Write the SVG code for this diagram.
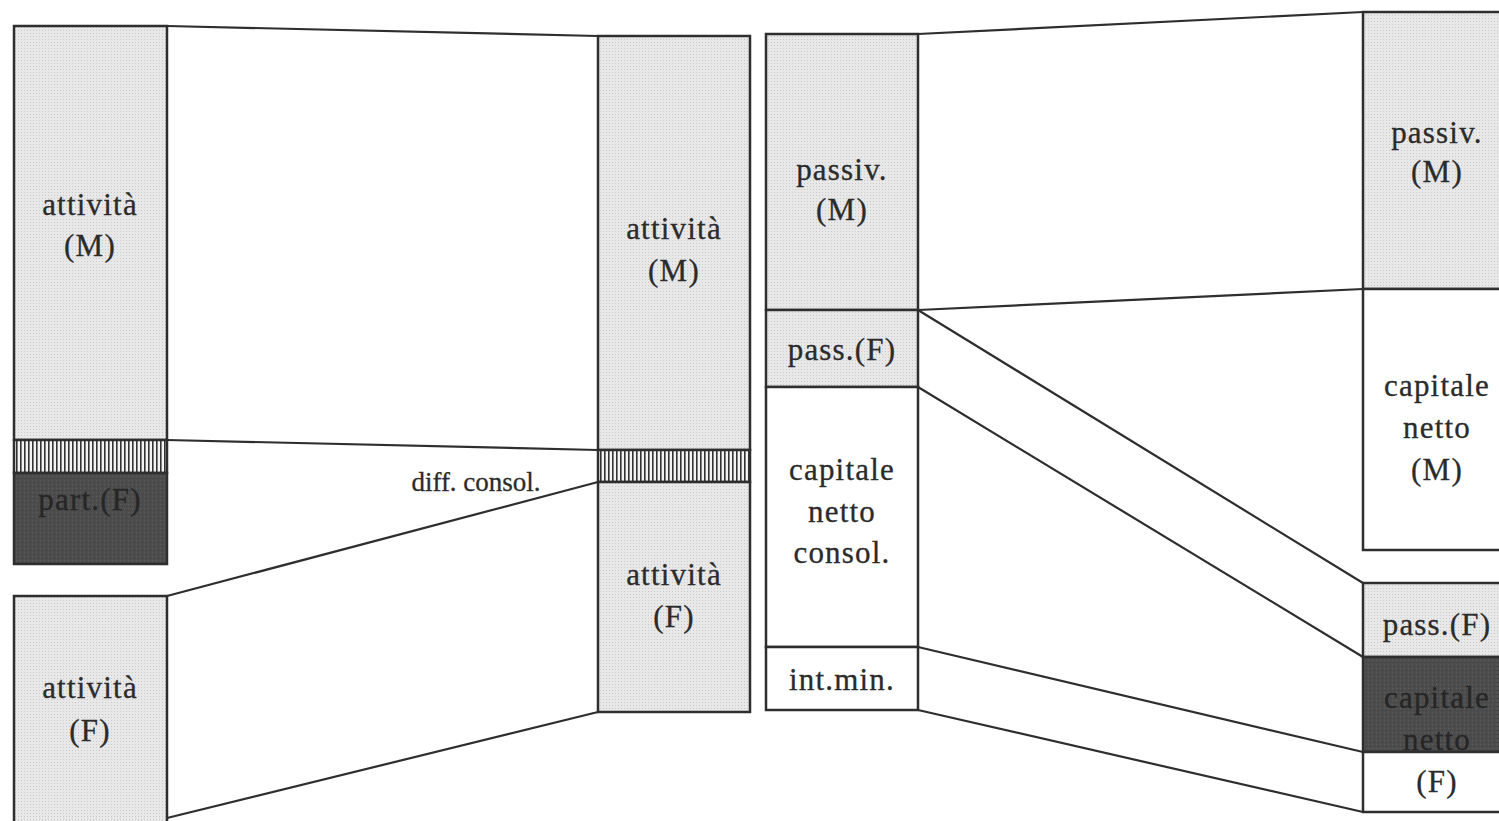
<svg xmlns="http://www.w3.org/2000/svg" width="1499" height="821" viewBox="0 0 1499 821">
<style>
.box{stroke:#2e2e2e;stroke-width:2.5}
.lt{fill:url(#dots)}
.wh{fill:#ffffff}
.dk{fill:url(#dark)}
.ht{fill:url(#hatch)}
.conn line{stroke:#2e2e2e;stroke-width:2.2}
text{font-family:"Liberation Serif","Times New Roman",serif;font-size:31px;letter-spacing:1.2px;fill:#2b2b2b;stroke:#2b2b2b;stroke-width:0.3;text-anchor:middle}
.dt{fill:#262626;stroke:#262626}
.sm{font-size:27px;letter-spacing:0px}
</style>
<defs>
<pattern id="dots" width="3" height="3" patternUnits="userSpaceOnUse">
<rect width="3" height="3" fill="#e8e8e8"/>
<rect width="1" height="1" fill="#c9c9c9"/>
</pattern>
<pattern id="dark" width="4" height="4" patternUnits="userSpaceOnUse">
<rect width="4" height="4" fill="#4d4d4d"/>
<rect width="1" height="1" fill="#5e5e5e"/>
<rect x="2" y="2" width="1" height="1" fill="#3e3e3e"/>
</pattern>
<pattern id="hatch" width="4" height="4" patternUnits="userSpaceOnUse">
<rect width="4" height="4" fill="#f4f4f4"/>
<rect width="1.6" height="4" fill="#333"/>
</pattern>
</defs>
<rect width="1499" height="821" fill="#ffffff"/>

<g id="connectors" class="conn">
<line x1="167" y1="26" x2="598" y2="36"/>
<line x1="167" y1="440" x2="598" y2="450"/>
<line x1="167" y1="596" x2="598" y2="482"/>
<line x1="167" y1="818" x2="598" y2="712"/>
<line x1="918" y1="34" x2="1363" y2="12"/>
<line x1="918" y1="310" x2="1363" y2="289"/>
<line x1="918" y1="310" x2="1363" y2="583"/>
<line x1="918" y1="387" x2="1363" y2="657"/>
<line x1="918" y1="647" x2="1363" y2="752"/>
<line x1="918" y1="710" x2="1363" y2="812"/>
</g>

<g id="left-M">
<rect class="box lt" x="14" y="26" width="153" height="414"/>
<text x="90" y="215">attività</text>
<text x="90" y="256">(M)</text>
</g>
<g id="left-diff">
<rect class="box ht" x="14" y="440" width="153" height="33"/>
</g>
<g id="left-part">
<rect class="box dk" x="14" y="473" width="153" height="91"/>
<text class="dt" x="90" y="510">part.(F)</text>
</g>
<g id="left-F">
<rect class="box lt" x="14" y="596" width="153" height="240"/>
<text x="90" y="698">attività</text>
<text x="90" y="741">(F)</text>
</g>

<g id="mid-M">
<rect class="box lt" x="598" y="36" width="152" height="414"/>
<text x="674" y="239">attività</text>
<text x="674" y="281">(M)</text>
</g>
<g id="mid-diff">
<rect class="box ht" x="598" y="450" width="152" height="32"/>
</g>
<g id="mid-F">
<rect class="box lt" x="598" y="482" width="152" height="230"/>
<text x="674" y="585">attività</text>
<text x="674" y="627">(F)</text>
</g>
<g id="diff-label">
<text class="sm" x="476" y="491">diff. consol.</text>
</g>

<g id="cons-passM">
<rect class="box lt" x="766" y="34" width="152" height="276"/>
<text x="842" y="180">passiv.</text>
<text x="842" y="220">(M)</text>
</g>
<g id="cons-passF">
<rect class="box lt" x="766" y="310" width="152" height="77"/>
<text x="842" y="360">pass.(F)</text>
</g>
<g id="cons-cap">
<rect class="box wh" x="766" y="387" width="152" height="260"/>
<text x="842" y="480">capitale</text>
<text x="842" y="522">netto</text>
<text x="842" y="563">consol.</text>
</g>
<g id="cons-intmin">
<rect class="box wh" x="766" y="647" width="152" height="63"/>
<text x="842" y="690">int.min.</text>
</g>

<g id="right-passM">
<rect class="box lt" x="1363" y="12" width="150" height="277"/>
<text x="1437" y="143">passiv.</text>
<text x="1437" y="182">(M)</text>
</g>
<g id="right-capM">
<rect class="box wh" x="1363" y="289" width="150" height="261"/>
<text x="1437" y="396">capitale</text>
<text x="1437" y="438">netto</text>
<text x="1437" y="480">(M)</text>
</g>
<g id="right-passF">
<rect class="box lt" x="1363" y="583" width="150" height="74"/>
<text x="1437" y="635">pass.(F)</text>
</g>
<g id="right-capF">
<rect class="box dk" x="1363" y="657" width="150" height="95"/>
<text class="dt" x="1437" y="708">capitale</text>
<text class="dt" x="1437" y="750">netto</text>
</g>
<g id="right-F">
<rect class="box wh" x="1363" y="752" width="150" height="60"/>
<text x="1437" y="792">(F)</text>
</g>
</svg>
